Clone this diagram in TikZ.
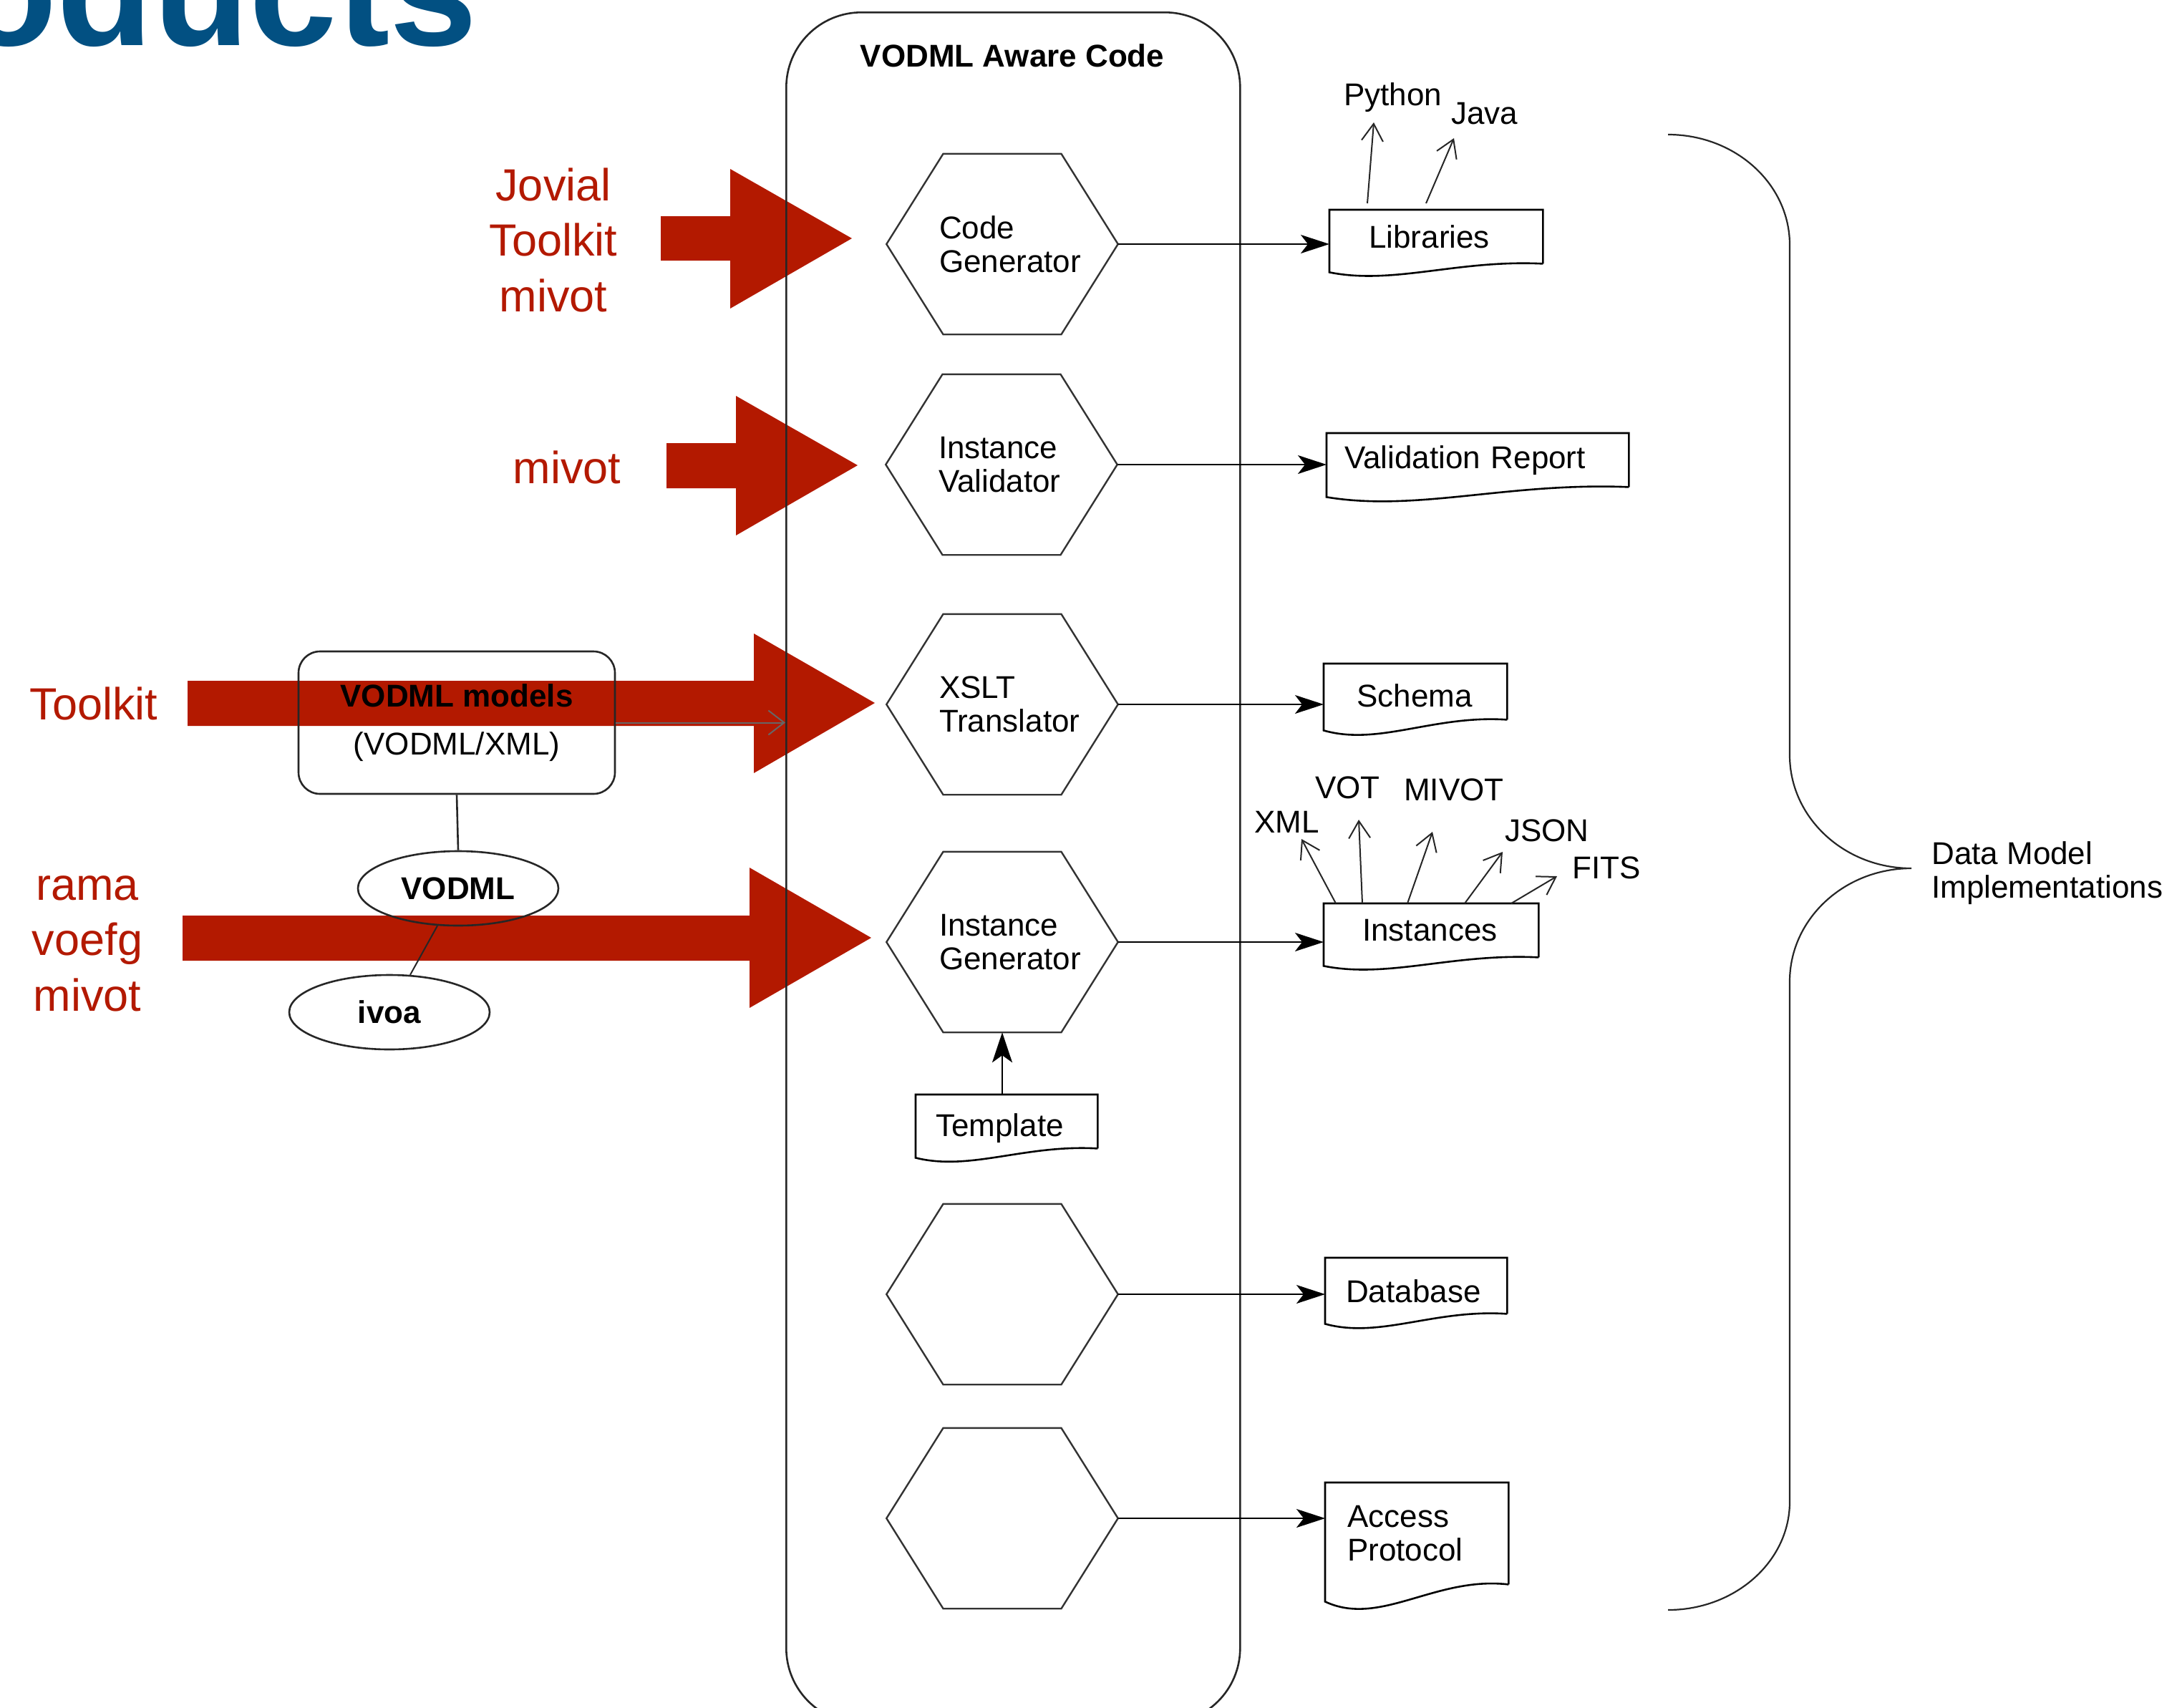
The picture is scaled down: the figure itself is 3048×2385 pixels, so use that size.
\documentclass[tikz,border=0pt]{standalone}
\usepackage{fontspec}
\setmainfont{Liberation Sans}
\usetikzlibrary{arrows.meta,shapes.geometric,calc}
\definecolor{vored}{RGB}{179,25,0}
\definecolor{voblue}{RGB}{2,80,130}
\newcommand\dfont{\fontsize{44}{47}\selectfont}
\newcommand\rfont{\fontsize{63}{77.5}\selectfont}
\newcommand\lowered[2]{\raisebox{-#1pt}[\height][\depth]{#2}}
\newcommand\hexpath[1]{\draw[hexline] (#1.west) -- ($(#1.north west)!0.245!(#1.north east)$) -- ($(#1.north west)!0.755!(#1.north east)$) -- (#1.east) -- ($(#1.south west)!0.755!(#1.south east)$) -- ($(#1.south west)!0.245!(#1.south east)$) -- cycle;}
\newcommand\docpath[4]{\draw[docline] (#1.south east) -- (#1.north east) -- (#1.north west) -- ([yshift=-#2pt]#1.south west) .. controls ([yshift=-#3pt]$(#1.south west)!0.3!(#1.south east)$) and ([yshift=#4pt]$(#1.south west)!0.6!(#1.south east)$) .. (#1.south east);}
\begin{document}
\begin{tikzpicture}[x=1pt,y=-1pt,
 ln/.style={draw=black!85, line width=2.6pt},
 hexline/.style={draw=black!80, line width=2.4pt},
 docline/.style={draw=black, line width=2.6pt},
 conn/.style={draw=black, line width=2.4pt, -{Stealth[length=40pt,width=26pt,inset=10pt]}},
 outarr/.style={draw=black!85, line width=2pt, -{Straight Barb[length=24pt,width=30pt]}},
 hexnode/.style={minimum width=323pt, minimum height=252pt, inner sep=0pt, text width=176pt, align=left, font=\dfont},
 docnode/.style={anchor=north west, inner ysep=0pt, align=left, font=\dfont},
 lbl/.style={anchor=base west, inner sep=0pt, font=\dfont},
 redtxt/.style={text=vored, font=\rfont, inner sep=0pt, align=center},
 redarr/.style={fill=vored, draw=none}]
\useasboundingbox (0,0) rectangle (3048,2385);
\clip (0,0) rectangle (3048,2385);

% partial slide title
\node[anchor=base west, inner sep=0pt, text=voblue, font=\fontsize{220}{220}\selectfont\bfseries] (prod) at (-287,63) {Products};

% red block arrows
\fill[redarr] (923,302) -- (1020,302) -- (1020,236) -- (1190,333) -- (1020,431) -- (1020,364) -- (923,364) -- cycle;
\fill[redarr] (931,619) -- (1028,619) -- (1028,553) -- (1198,650) -- (1028,748) -- (1028,682) -- (931,682) -- cycle;
\fill[redarr] (262,951) -- (1053,951) -- (1053,885) -- (1222,982) -- (1053,1080) -- (1053,1014) -- (262,1014) -- cycle;
\fill[redarr] (255,1279) -- (1047,1279) -- (1047,1212) -- (1217,1310) -- (1047,1408) -- (1047,1342) -- (255,1342) -- cycle;

% red labels
\node[redtxt] (rt1) at (773,335) {Jovial\\Toolkit\\mivot};
\node[redtxt, anchor=base] (rt2) at (792,675) {mivot};
\node[redtxt, anchor=base] (rt3) at (131,1005) {Toolkit};
\node[redtxt] (rt4) at (122,1318) {rama\\voefg\\mivot};

% container
\node[ln, draw, rounded corners=105pt, minimum width=634pt, minimum height=2390pt, anchor=north west, inner sep=0pt] (code) at (1097,16) {};
\node[anchor=base, inner sep=0pt, font=\dfont\bfseries] (ctitle) at (1414,93) {VODML Aware Code};

% hexagons
\node[hexnode] (h1) at (1400,341) {Code\\Generator};
\node[hexnode] (h2) at (1399,649) {Instance\\Validator};
\node[hexnode] (h3) at (1400,984) {XSLT\\Translator};
\node[hexnode] (h4) at (1400,1316) {Instance\\Generator};
\node[hexnode] (h5) at (1400,1808) {};
\node[hexnode] (h6) at (1400,2121) {};
\hexpath{h1}\hexpath{h2}\hexpath{h3}\hexpath{h4}\hexpath{h5}\hexpath{h6}

% documents
\node[docnode, minimum width=298pt, minimum height=75pt, text width=188pt, inner xsep=55pt] (lib) at (1857,293) {Libraries};
\node[docnode, minimum width=422pt, minimum height=75pt, text width=372pt, inner xsep=25pt] (val) at (1853,605) {Validation Report};
\node[docnode, minimum width=256pt, minimum height=78pt, text width=164pt, inner xsep=46pt] (sch) at (1849,927) {\lowered{6}{Schema}};
\node[docnode, minimum width=300pt, minimum height=75pt, text width=192pt, inner xsep=54pt] (inst) at (1849,1262) {Instances};
\node[docnode, minimum width=254pt, minimum height=75pt, text width=198pt, inner xsep=28pt] (tmpl) at (1279,1529) {\lowered{9}{Template}};
\node[docnode, minimum width=254pt, minimum height=78pt, text width=196pt, inner xsep=29pt] (db) at (1851,1757) {\lowered{8}{Database}};
\node[docnode, minimum width=256pt, minimum height=142pt, text width=194pt, inner xsep=31pt] (acc) at (1851,2071) {Access\\Protocol};
\docpath{lib}{12}{30}{6}
\docpath{val}{14}{35}{7}
\docpath{sch}{15}{37}{7}
\docpath{inst}{12}{30}{6}
\docpath{tmpl}{13}{32}{6}
\docpath{db}{14}{35}{7}
\docpath{acc}{24}{60}{12}

% connectors
\draw[conn] (h1.east) -- (h1.east -| lib.west);
\draw[conn] (h2.east) -- (h2.east -| val.west);
\draw[conn] (h3.east) -- (h3.east -| sch.west);
\draw[conn] (h4.east) -- (h4.east -| inst.west);
\draw[conn] (h5.east) -- (h5.east -| db.west);
\draw[conn] (h6.east) -- (h6.east -| acc.west);
\draw[conn, -{Stealth[length=42pt,width=28pt,inset=10pt]}] (tmpl.north -| h4.south) -- (h4.south);

% output labels
\node[lbl] (py) at (1877,147) {Python};
\node[lbl] (jv) at (2027,173) {Java};
\node[lbl] (xml) at (1752,1163) {XML};
\node[lbl] (vot) at (1837,1115) {VOT};
\node[lbl] (mvt) at (1961,1118) {MIVOT};
\node[lbl] (json) at (2102,1175) {JSON};
\node[lbl] (fits) at (2196,1227) {FITS};
\draw[outarr] ([xshift=53pt,yshift=9pt]lib.north west) -- ([xshift=42pt,yshift=-24pt]py.base west);
\draw[outarr] ([xshift=135pt,yshift=9pt]lib.north west) -- ([xshift=4pt,yshift=-20pt]jv.base west);
\draw[outarr] ([xshift=17pt]inst.north west) -- ([xshift=66pt,yshift=-9pt]xml.base west);
\draw[outarr] ([xshift=54pt]inst.north west) -- ([xshift=61pt,yshift=-30pt]vot.base west);
\draw[outarr] ([xshift=117pt]inst.north west) -- ([xshift=40pt,yshift=-44pt]mvt.base west);
\draw[outarr] ([xshift=197pt]inst.north west) -- ([xshift=-3pt,yshift=-15pt]json.base west);
\draw[outarr] ([xshift=262pt]inst.north west) -- ([xshift=-21pt,yshift=3pt]fits.base west);

% VODML models
\node[ln, draw, rounded corners=30pt, minimum width=442pt, minimum height=199pt, inner sep=0pt, align=center, font=\dfont] (vbox) at (638,1009.5) {\textbf{VODML models}\\[20pt](VODML/XML)};
\node[ln, draw, ellipse, minimum width=280pt, minimum height=104pt, inner sep=0pt, font=\dfont\bfseries] (e1) at (640,1241) {VODML};
\node[ln, draw, ellipse, minimum width=280pt, minimum height=104pt, inner sep=0pt, font=\dfont\bfseries] (e2) at (544,1414) {ivoa};
\draw[ln] (vbox.south) -- (e1.north);
\draw[ln, line width=2pt] (e1) -- (e2);
\draw[draw=black!60, line width=2pt, -{Straight Barb[length=22pt,width=34pt]}] (vbox.east) -- (vbox.east -| code.west);

% brace
\draw[ln, line width=2.2pt] (2330,188) .. controls (2424,188) and (2500,257) .. (2500,342) -- (2500,1055) .. controls (2500,1142) and (2576,1213) .. (2670,1213) .. controls (2576,1213) and (2500,1284) .. (2500,1371) -- (2500,2098) .. controls (2500,2181) and (2424,2249) .. (2330,2249);
\node[anchor=west, inner sep=0pt, align=left, font=\dfont] (dmi) at (2698,1220) {Data Model\\Implementations};
\end{tikzpicture}
\end{document}
